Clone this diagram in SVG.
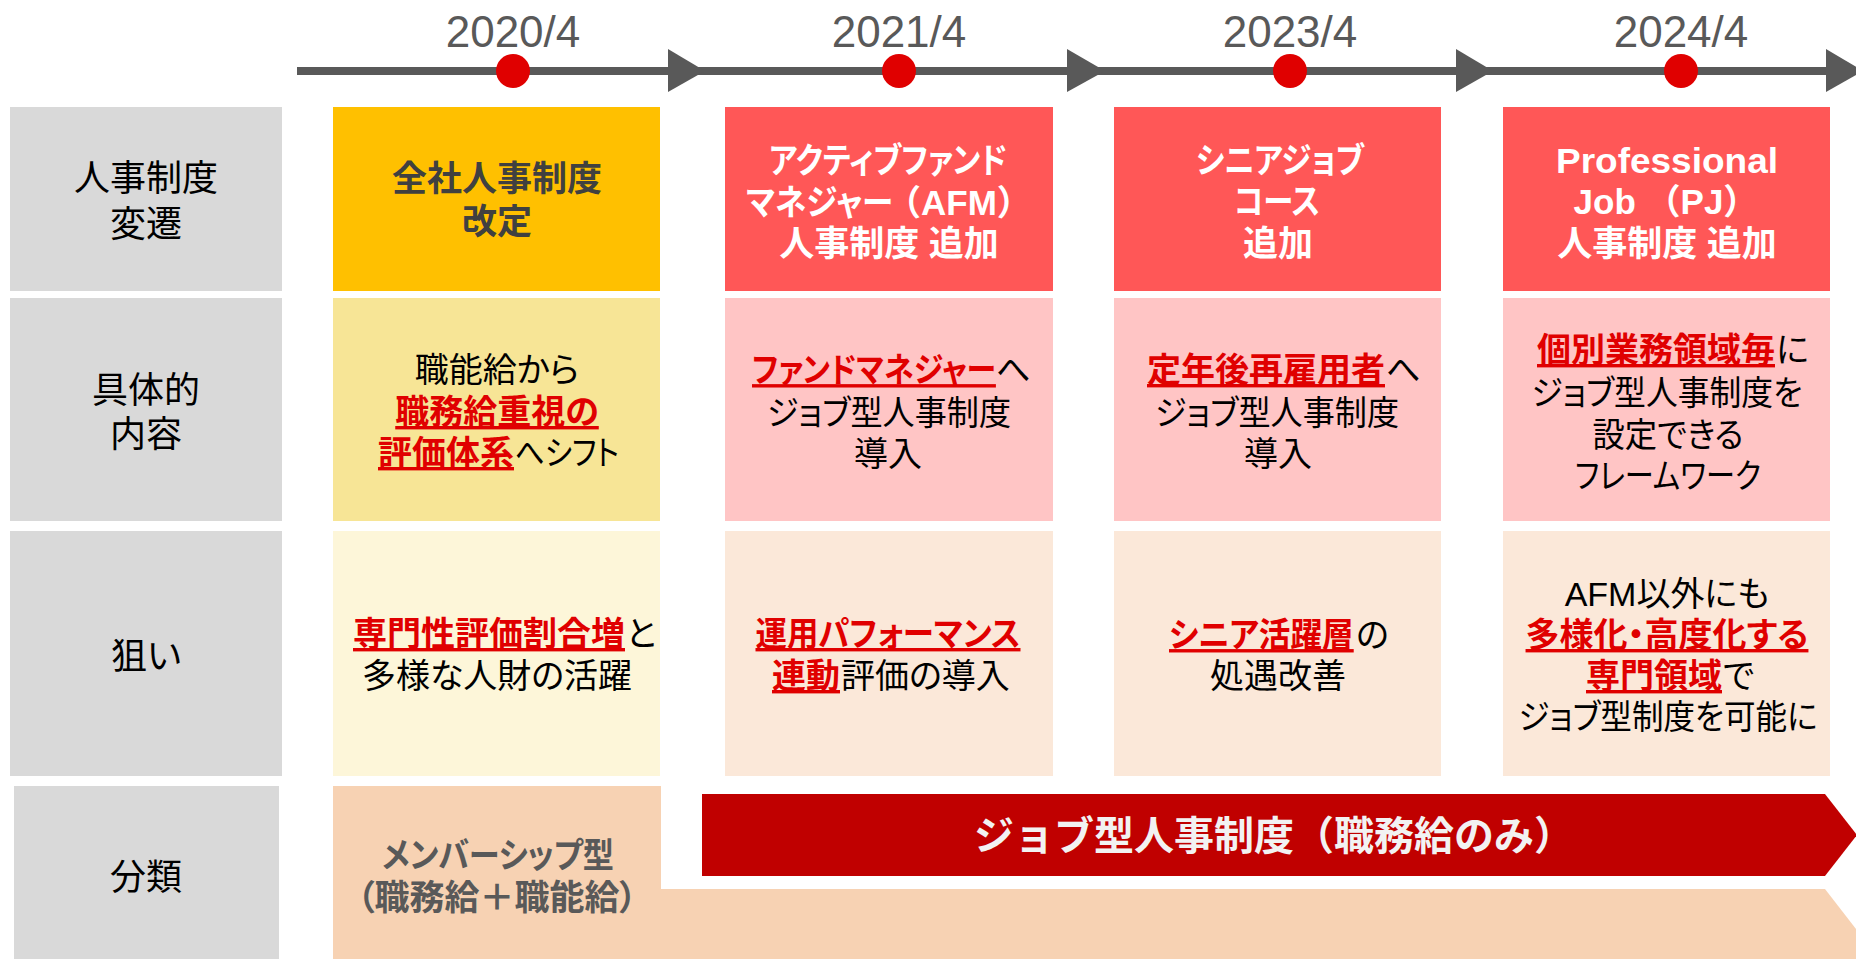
<svg xmlns="http://www.w3.org/2000/svg" width="1856" height="959" viewBox="0 0 1856 959">
<style>
.t{font-family:"Liberation Sans","Noto Sans CJK JP",sans-serif;font-feature-settings:"palt";text-anchor:middle}
.s{text-anchor:start}
.e{text-anchor:end}
.lbl{font-size:36px;fill:#000}
.h{font-size:35px;font-weight:bold;fill:#fff}
.b{font-size:34px;fill:#000}
.r{font-weight:bold;fill:#E00000;text-decoration:underline}
.fw{font-feature-settings:normal}
.date{font-family:"Liberation Sans",sans-serif;font-size:44px;fill:#595959;text-anchor:middle}
.gray{fill:#D9D9D9}
.red{fill:#FF5757}
.dot{fill:#E00000}
.ah{fill:#595959}
</style>
<rect width="1856" height="959" fill="#fff"/>

<g id="timeline">
<rect x="297" y="67" width="1550" height="8" fill="#595959"/>
<polygon class="ah" points="668,49 705,71 668,92"/>
<polygon class="ah" points="1067,49 1105,71 1067,92"/>
<polygon class="ah" points="1456,49 1493,71 1456,92"/>
<polygon class="ah" points="1826,49 1863,71 1826,92"/>
</g>

<g id="m2020"><circle class="dot" cx="513" cy="71" r="17"/><text class="date" x="513" y="47">2020/4</text></g>
<g id="m2021"><circle class="dot" cx="899" cy="71" r="17"/><text class="date" x="899" y="47">2021/4</text></g>
<g id="m2023"><circle class="dot" cx="1290" cy="71" r="17"/><text class="date" x="1290" y="47">2023/4</text></g>
<g id="m2024"><circle class="dot" cx="1681" cy="71" r="17"/><text class="date" x="1681" y="47">2024/4</text></g>

<!-- Row 1 -->
<g id="label-hensen">
<rect class="gray" x="10" y="107" width="272" height="184"/>
<text class="t lbl" x="146" y="191">人事制度</text>
<text class="t lbl" x="146" y="237">変遷</text>
</g>
<g id="kaitei">
<rect x="333" y="107" width="327" height="184" fill="#FFC000"/>
<text class="t h" x="497" y="191" style="fill:#404040">全社人事制度</text>
<text class="t h" x="497" y="234" style="fill:#404040">改定</text>
</g>
<g id="afm">
<rect class="red" x="725" y="107" width="328" height="184"/>
<text class="t h" x="888" y="173" textLength="238" lengthAdjust="spacingAndGlyphs">アクティブファンド</text>
<text class="t h s" transform="translate(746 215) scale(0.9 1)">マネジャー</text>
<text class="t h s fw" x="886" y="215">（AFM）</text>
<text class="t h" x="889" y="256">人事制度 追加</text>
</g>
<g id="senior">
<rect class="red" x="1114" y="107" width="327" height="184"/>
<text class="t h" x="1280" y="173" textLength="168" lengthAdjust="spacingAndGlyphs">シニアジョブ</text>
<text class="t h" x="1277" y="214" textLength="86" lengthAdjust="spacingAndGlyphs">コース</text>
<text class="t h" x="1278" y="256">追加</text>
</g>
<g id="pj">
<rect class="red" x="1503" y="107" width="327" height="184"/>
<text class="t h" x="1667" y="173" textLength="222" lengthAdjust="spacingAndGlyphs">Professional</text>
<text class="t h fw" x="1666" y="214">Job （PJ）</text>
<text class="t h" x="1667" y="256">人事制度 追加</text>
</g>

<!-- Row 2 -->
<g id="label-naiyou">
<rect class="gray" x="10" y="298" width="272" height="223"/>
<text class="t lbl" x="146" y="403">具体的</text>
<text class="t lbl" x="146" y="447">内容</text>
</g>
<g id="naiyou-2020">
<rect x="333" y="298" width="327" height="223" fill="#F7E596"/>
<text class="t b" x="497" y="382">職能給から</text>
<text class="t b r" x="497" y="424">職務給重視の</text>
<text class="t b r e" x="514" y="465">評価体系</text>
<text class="t b s" x="515" y="465" textLength="104" lengthAdjust="spacingAndGlyphs">へシフト</text>
</g>
<g id="naiyou-2021">
<rect x="725" y="298" width="328" height="223" fill="#FFC5C5"/>
<text class="t b r s" transform="translate(752 382) scale(0.88 1)">ファンドマネジャー</text>
<text class="t b s" x="996" y="382">へ</text>
<text class="t b" x="889" y="425" textLength="244" lengthAdjust="spacingAndGlyphs">ジョブ型人事制度</text>
<text class="t b" x="888" y="466">導入</text>
</g>
<g id="naiyou-2023">
<rect x="1114" y="298" width="327" height="223" fill="#FFC5C5"/>
<text class="t b r e" x="1385" y="382">定年後再雇用者</text>
<text class="t b s" x="1386" y="382">へ</text>
<text class="t b" x="1277" y="425" textLength="244" lengthAdjust="spacingAndGlyphs">ジョブ型人事制度</text>
<text class="t b" x="1278" y="466">導入</text>
</g>
<g id="naiyou-2024">
<rect x="1503" y="298" width="327" height="223" fill="#FFC5C5"/>
<text class="t b r e" x="1775" y="362">個別業務領域毎</text>
<text class="t b s" x="1776" y="362">に</text>
<text class="t b" x="1667" y="405" textLength="271" lengthAdjust="spacingAndGlyphs">ジョブ型人事制度を</text>
<text class="t b" x="1668" y="447" textLength="151" lengthAdjust="spacingAndGlyphs">設定できる</text>
<text class="t b" x="1668" y="488" textLength="186" lengthAdjust="spacingAndGlyphs">フレームワーク</text>
</g>

<!-- Row 3 -->
<g id="label-nerai">
<rect class="gray" x="10" y="531" width="272" height="245"/>
<text class="t lbl" x="146" y="669">狙い</text>
</g>
<g id="nerai-2020">
<rect x="333" y="531" width="327" height="245" fill="#FDF6D9"/>
<text class="t b r e" x="625" y="646">専門性評価割合増</text>
<text class="t b s" x="626" y="646">と</text>
<text class="t b" x="497" y="688">多様な人財の活躍</text>
</g>
<g id="nerai-2021">
<rect x="725" y="531" width="328" height="245" fill="#FBE8D9"/>
<text class="t b r" x="888" y="646" textLength="265" lengthAdjust="spacingAndGlyphs">運用パフォーマンス</text>
<text class="t b r e" x="840" y="688">連動</text>
<text class="t b s" x="841" y="688">評価の導入</text>
</g>
<g id="nerai-2023">
<rect x="1114" y="531" width="327" height="245" fill="#FBE8D9"/>
<text class="t b r s" transform="translate(1169 647) scale(0.93 1)">シニア活躍層</text>
<text class="t b s" x="1356" y="647">の</text>
<text class="t b" x="1278" y="688">処遇改善</text>
</g>
<g id="nerai-2024">
<rect x="1503" y="531" width="327" height="245" fill="#FBE8D9"/>
<text class="t b" x="1667" y="606">AFM以外にも</text>
<text class="t b r" x="1667" y="647">多様化・高度化する</text>
<text class="t b r e" x="1722" y="688">専門領域</text>
<text class="t b s" x="1723" y="688">で</text>
<text class="t b" x="1668" y="729" textLength="299" lengthAdjust="spacingAndGlyphs">ジョブ型制度を可能に</text>
</g>

<!-- Row 4 -->
<g id="label-bunrui">
<rect class="gray" x="14" y="786" width="265" height="173"/>
<text class="t lbl" x="146" y="890">分類</text>
</g>
<g id="connectors">
<polygon id="member-arrow" points="661,889 1825,889 1870,947 1870,960 661,960" fill="#F7D2B3"/>
<polygon id="job-arrow" points="702,794 1825,794 1857,835 1825,876 702,876" fill="#C00000"/>
</g>
<g id="member">
<rect x="333" y="786" width="328" height="173" fill="#F7D2B3"/>
<text class="t h" x="498" y="868" textLength="232" lengthAdjust="spacingAndGlyphs" style="fill:#595959">メンバーシップ型</text>
<text class="t h" x="497" y="910" style="fill:#595959">（職務給＋職能給）</text>
</g>
<g id="job">
<text class="t fw" x="1274" y="850" style="font-size:40px;font-weight:bold;fill:#F2F2F2">ジョブ型人事制度（職務給のみ）</text>
</g>
</svg>
